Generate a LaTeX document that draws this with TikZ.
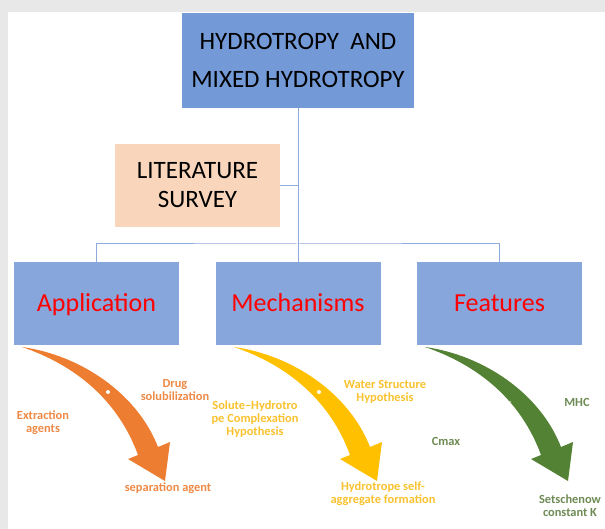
\documentclass[tikz,border=0pt]{standalone}
\usepackage{fontspec}
\setmainfont{Carlito}
\usepackage{tikz}
\usetikzlibrary{calc}
\definecolor{headblue}{HTML}{7399D6}
\definecolor{catblue}{HTML}{87A7DC}
\definecolor{peach}{HTML}{F9D6BB}
\definecolor{linkblue}{HTML}{8FAADC}
\definecolor{sweeporange}{HTML}{ED7D31}
\definecolor{sweepyellow}{HTML}{FFC000}
\definecolor{sweepgreen}{HTML}{548235}
\definecolor{orangetxt}{HTML}{EE8A47}
\definecolor{yellowtxt}{HTML}{F9C22E}
\definecolor{greentxt}{HTML}{6E8B55}
\def\bentarrow[#1](#2){\fill[#1,shift={(#2)}] (22,347) .. controls (80,355) and (137,393) .. (158,447) -- (170,442) -- (165,481) -- (128,459) -- (138,455) .. controls (118,400) and (75,365) .. (22,347) -- cycle;}

\begin{document}
\begin{tikzpicture}[x=1pt,y=-1pt,
    headbox/.style={fill=headblue, align=center, minimum width=232pt, minimum height=95pt, font=\fontsize{25}{38}\selectfont},
    litbox/.style={fill=peach, align=center, minimum width=165pt, minimum height=83pt, font=\fontsize{25}{29}\selectfont},
    catbox/.style={fill=catblue, text=red, minimum width=165pt, minimum height=83pt, text height=17pt, text depth=0pt, font=\fontsize{26}{30}\selectfont},
    link/.style={draw=linkblue, line width=1pt},
    lbl/.style={align=center, inner sep=0pt, font=\fontsize{12.4}{12.8}\selectfont\bfseries}]
  %%%%% background
  \useasboundingbox (0,0) rectangle (605,529);
  \fill[black!9] (0,0) rectangle (605,529);
  \fill[white] (8,12) rectangle (605,529);

  %%%%% boxes
  \node[headbox] (hydro) at (298,60.5) {HYDROTROPY\ \ AND\\MIXED HYDROTROPY};
  \node[litbox] (survey) at (197.5,185.5) {LITERATURE\\SURVEY};
  \node[catbox] (app) at (96.5,303.5) {Application};
  \node[catbox] (mech) at (298,303.5) {Mechanisms};
  \node[catbox] (feat) at (499.5,303.5) {Features};

  %%%%% links
  \coordinate (bus) at (298,244);
  \draw[link] (hydro.south) -- (mech.north);
  \draw[link] (survey.east) -- (survey.east -| hydro.south);
  \draw[link] (app.north) |- (bus) -| (feat.north);

  %%%%% sweeping arrows
  \bentarrow[sweeporange](0,0);
  \bentarrow[sweepyellow](212,0);
  \bentarrow[sweepgreen](403,0);
  \fill[white] (108,392) circle (2);
  \fill[white] (319,392) circle (2);
  \fill[white, opacity=0.4] (510,402) circle (1.5);

  %%%%% labels
  \node[lbl, text=orangetxt] (drug) at (175,390) {Drug\\solubilization};
  \node[lbl, text=orangetxt] (extract) at (43,423) {Extraction\\agents};
  \node[lbl, text=orangetxt] (separ) at (168,488) {separation agent};
  \node[lbl, text=yellowtxt] (complex) at (255,419) {Solute--Hydrotro\\pe Complexation\\Hypothesis};
  \node[lbl, text=yellowtxt] (water) at (385,392) {Water Structure\\Hypothesis};
  \node[lbl, text=yellowtxt] (selfagg) at (383,494) {Hydrotrope self-\\aggregate formation};
  \node[lbl, text=greentxt] (mhc) at (577,402) {MHC};
  \node[lbl, text=greentxt] (cmax) at (446,441) {Cmax};
  \node[lbl, text=greentxt] (setsch) at (570,506) {Setschenow\\constant K};
\end{tikzpicture}
\end{document}
